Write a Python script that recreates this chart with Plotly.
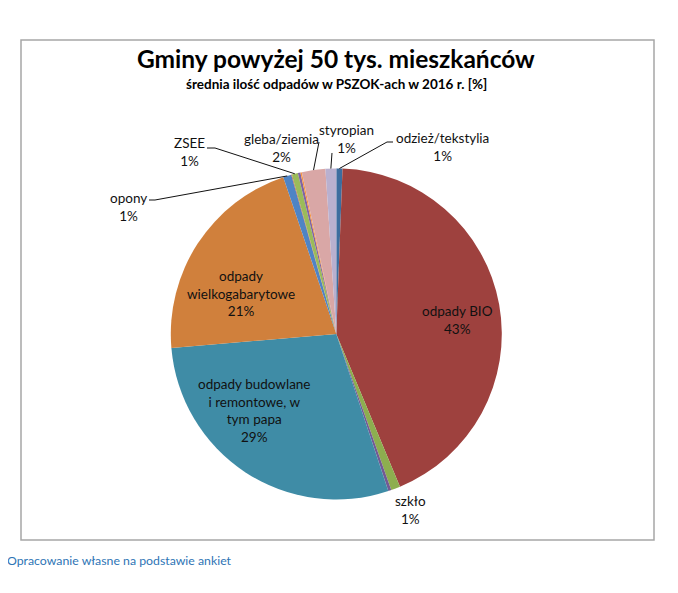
import math
import plotly.graph_objects as go

# ---------------- data ----------------
categories = [
    "odzież/tekstylia",
    "odpady BIO",
    "szkło",
    "inne (1)",
    "odpady budowlane i remontowe, w tym papa",
    "odpady wielkogabarytowe",
    "opony",
    "inne (2)",
    "ZSEE",
    "inne (3)",
    "inne (4)",
    "gleba/ziemia",
    "styropian",
]
values = [0.6, 43.2, 0.9, 0.3, 28.8, 21.2, 0.8, 0.06, 0.6, 0.25, 0.14, 2.3, 1.05]
label_lines = {
    "odzież/tekstylia": "odzież/tekstylia",
    "odpady BIO": "odpady BIO",
    "szkło": "szkło",
    "odpady budowlane i remontowe, w tym papa": "odpady budowlane<br>i remontowe, w<br>tym papa",
    "odpady wielkogabarytowe": "odpady<br>wielkogabarytowe",
    "opony": "opony",
    "ZSEE": "ZSEE",
    "gleba/ziemia": "gleba/ziemia",
    "styropian": "styropian",
}
title_text = "Gminy powyżej 50 tys. mieszkańców"
subtitle_text = "średnia ilość odpadów w PSZOK-ach w 2016 r. [%]"
source_text = "Opracowanie własne na podstawie ankiet"

# ---------------- styling ----------------
colors = ["#3C6D9F", "#9E413E", "#8DAE4F", "#735A94", "#3F8CA6", "#D0803C",
          "#4F84C4", "#C0504D", "#9BBB59", "#8064A2", "#F79646", "#D9A7A6", "#B9B0CF"]

OFF = 8                      # page body margin
W, H = 678 - OFF, 593 - OFF  # figure size
CX, CY, R = 336.3, 334.0, 165.5  # pie centre / radius in window pixels


def px(x):
    return (x - OFF) / W


def py(y):
    return 1 - (y - OFF) / H


# label placement (pixel centres of text blocks)
label_pos = {
    "odzież/tekstylia": (442, 146.5),
    "odpady BIO": (457, 320),
    "szkło": (410, 510),
    "odpady budowlane i remontowe, w tym papa": (254, 410.5),
    "odpady wielkogabarytowe": (241, 293),
    "opony": (128, 207),
    "ZSEE": (190, 152),
    "gleba/ziemia": (281, 147.5),
    "styropian": (347, 139),
}
# leader line start points (pixels), ending at slice midpoint on the rim
leader_start = {
    "opony": [(149, 200), (155, 200)],
    "ZSEE": [(207, 148), (215, 148)],
    "gleba/ziemia": [(319, 142)],
    "styropian": [(332, 153)],
    "odzież/tekstylia": [(393, 142), (387, 142)],
}

fig = go.Figure(
    go.Pie(
        labels=categories,
        values=values,
        sort=False,
        direction="clockwise",
        rotation=0,
        marker=dict(colors=colors, line=dict(width=0)),
        textinfo="none",
        hoverinfo="label+percent",
        showlegend=False,
        domain=dict(x=[px(CX - R), px(CX + R)], y=[py(CY + R), py(CY - R)]),
    )
)

total = sum(values)
annotations = []
shapes = []
cum = 0.0
FONT = "Lato, Carlito, Calibri, sans-serif"
for cat, v in zip(categories, values):
    start = cum
    cum += v
    if cat not in label_lines:
        continue
    pct = round(v / total * 100)
    x, y = label_pos[cat]
    annotations.append(dict(
        x=px(x), y=py(y), xref="paper", yref="paper",
        text=f"{label_lines[cat]}<br>{pct}%", showarrow=False,
        align="center", xanchor="center", yanchor="middle",
        font=dict(family=FONT, size=13.5, color="#111111"),
    ))
    if cat in leader_start:
        mid = (start + v / 2) / total * 2 * math.pi
        ex = CX + R * math.sin(mid)
        ey = CY - R * math.cos(mid)
        pts = leader_start[cat] + [(ex, ey)]
        path = "M " + " L ".join(f"{px(a):.5f},{py(b):.5f}" for a, b in pts)
        shapes.append(dict(type="path", path=path, xref="paper", yref="paper",
                           line=dict(color="#111111", width=1)))

# chart border
shapes.append(dict(type="rect", xref="paper", yref="paper",
                   x0=px(21), x1=px(654), y0=py(540), y1=py(40),
                   line=dict(color="#A6A6A6", width=1.5), layer="below"))

annotations += [
    dict(x=px(336), y=py(58), xref="paper", yref="paper", text=f"<b>{title_text}</b>",
         showarrow=False, xanchor="center", yanchor="middle",
         font=dict(family=FONT, size=24.5, color="#000000")),
    dict(x=px(336), y=py(84), xref="paper", yref="paper", text=f"<b>{subtitle_text}</b>",
         showarrow=False, xanchor="center", yanchor="middle",
         font=dict(family=FONT, size=13.5, color="#000000")),
    dict(x=px(5), y=py(560), xref="paper", yref="paper", text=source_text,
         showarrow=False, xanchor="left", yanchor="middle",
         font=dict(family=FONT, size=12.3, color="#2E74B5")),
]

fig.update_layout(
    width=W, height=H,
    margin=dict(l=0, r=0, t=0, b=0),
    paper_bgcolor="white", plot_bgcolor="white",
    annotations=annotations, shapes=shapes,
)

fig.write_html("out.html")
